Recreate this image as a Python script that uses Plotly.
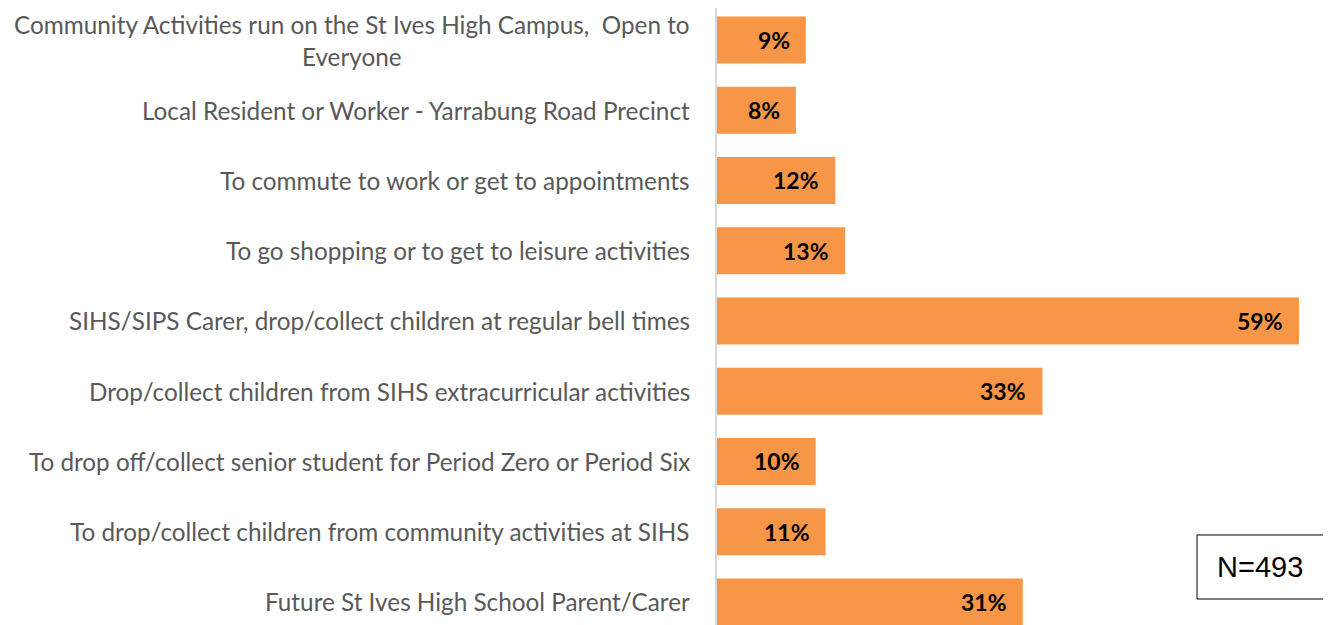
import plotly.graph_objects as go

categories = [
    "Community Activities run on the St Ives High Campus,  Open to<br>Everyone",
    "Local Resident or Worker - Yarrabung Road Precinct",
    "To commute to work or get to appointments",
    "To go shopping or to get to leisure activities",
    "SIHS/SIPS Carer, drop/collect children at regular bell times",
    "Drop/collect children from SIHS extracurricular activities",
    "To drop off/collect senior student for Period Zero or Period Six",
    "To drop/collect children from community activities at SIHS",
    "Future St Ives High School Parent/Carer",
]
values = [9, 8, 12, 13, 59, 33, 10, 11, 31]
value_labels = [f"{v}%" for v in values]
sample_note = "N=493"

ORANGE = "#F79646"
LABEL_FONT = "Lato"

fig = go.Figure(
    go.Bar(
        x=values,
        y=categories,
        orientation="h",
        marker=dict(color=ORANGE, line=dict(width=0)),
        hoverinfo="skip",
    )
)

# category labels as annotations (centered multi-line, right-anchored)
for cat in categories:
    fig.add_annotation(
        x=0, xref="paper", y=cat, yref="y",
        text=cat, showarrow=False,
        xanchor="right", yanchor="middle", align="center",
        xshift=-25,
        font=dict(family=LABEL_FONT, size=24.3, color="#595959"),
    )

# value labels inside end of bars
for cat, v, lab in zip(categories, values, value_labels):
    fig.add_annotation(
        x=v, xref="x", y=cat, yref="y",
        text=f"<b>{lab}</b>", showarrow=False,
        xanchor="right", yanchor="middle",
        xshift=-14,
        font=dict(family=LABEL_FONT, size=23, color="#000000"),
    )

# sample size box
fig.add_shape(
    type="rect", xref="paper", yref="paper",
    x0=0.7818, x1=1.05, y0=0.0421, y1=0.1459,
    line=dict(color="#000000", width=1), fillcolor="rgba(0,0,0,0)",
)
fig.add_annotation(
    x=0.8844, xref="paper", y=0.094, yref="paper",
    text=sample_note, showarrow=False,
    xanchor="center", yanchor="middle",
    font=dict(family="Liberation Sans", size=29, color="#000000"),
)

fig.update_layout(
    width=1323, height=617,
    margin=dict(l=709, r=0, t=0, b=0),
    paper_bgcolor="white", plot_bgcolor="white",
    bargap=0.331,
    showlegend=False,
    xaxis=dict(range=[0, 62.25], showgrid=False, zeroline=False,
               showticklabels=False, showline=False, ticks=""),
    yaxis=dict(categoryorder="array", categoryarray=categories,
               range=[8.328, -0.4555], showticklabels=False,
               showgrid=False, zeroline=False, showline=True,
               linecolor="#d9d9d9", linewidth=2, ticks=""),
)

fig.write_html("out.html")
